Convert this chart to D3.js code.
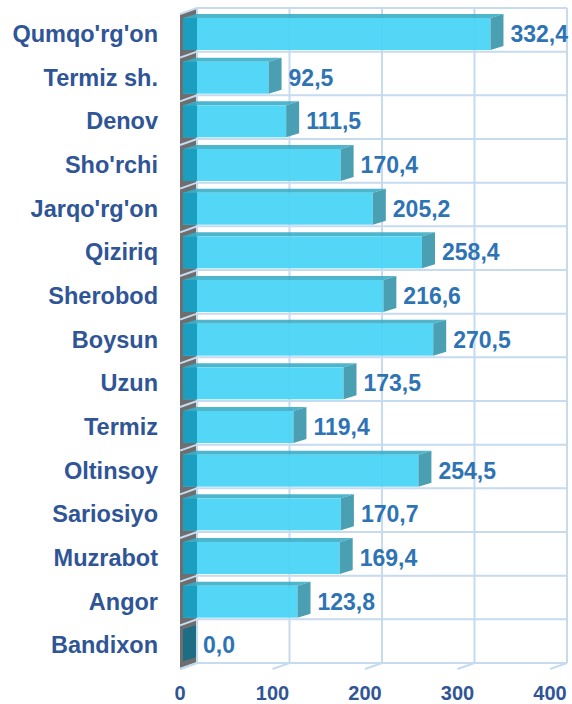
<!DOCTYPE html>
<html>
<head>
<meta charset="utf-8">
<script src="https://cdn.jsdelivr.net/npm/d3@7"></script>
<style>
  body { margin: 0; background: #fff; }
  text { font-family: "Liberation Sans", Arial, sans-serif; font-weight: bold; }
</style>
</head>
<body>
<div id="chart"></div>
<script>
// data
var districts = ["Qumqo'rg'on", "Termiz sh.", "Denov", "Sho'rchi", "Jarqo'rg'on", "Qiziriq", "Sherobod",
  "Boysun", "Uzun", "Termiz ", "Oltinsoy", "Sariosiyo", "Muzrabot", "Angor", "Bandixon"];
var values = [332.4, 92.5, 111.5, 170.4, 205.2, 258.4, 216.6, 270.5, 173.5, 119.4, 254.5, 170.7, 169.4, 123.8, 0.0];
var ticks = [0, 100, 200, 300, 400];

var width = 572, height = 704;
var depth = {dx: 17, dy: -6};      // front -> back offset of the walls
var barDepth = {dx: 13, dy: -4};   // depth of a bar

var svg = d3.select('#chart').append('svg')
  .attr('width', width)
  .attr('height', height);

// back wall scales
var x = d3.scaleLinear().domain([0, 400]).range([197, 567]);
var y = d3.scaleBand().domain(districts).range([8, 663]).paddingInner(0);

var grid = '#c6daf0';

// left side wall
svg.append('path')
  .attr('d', `M${x(0) - depth.dx},${y.range()[0] - depth.dy} L${x(0)},${y.range()[0]} L${x(0)},${y.range()[1]} L${x(0) - depth.dx},${y.range()[1] - depth.dy} Z`)
  .attr('fill', '#6e6e6e');

// vertical gridlines on back wall
svg.selectAll('.vgrid')
  .data(ticks)
  .enter().append('line')
  .attr('x1', d => x(d)).attr('x2', d => x(d))
  .attr('y1', y.range()[0]).attr('y2', y.range()[1])
  .attr('stroke', grid).attr('stroke-width', 2);

// floor ticks
svg.selectAll('.fgrid')
  .data(ticks)
  .enter().append('line')
  .attr('x1', d => x(d)).attr('x2', d => x(d) - depth.dx)
  .attr('y1', y.range()[1]).attr('y2', y.range()[1] - depth.dy)
  .attr('stroke', grid).attr('stroke-width', 2);

// horizontal gridlines (back wall + side wall)
var bounds = districts.map(d => y(d)).concat([y.range()[1]]);
svg.selectAll('.hgrid')
  .data(bounds)
  .enter().append('path')
  .attr('d', d => `M${x(0) - depth.dx},${d - depth.dy} L${x(0)},${d} L${x(400)},${d}`)
  .attr('fill', 'none')
  .attr('stroke', grid).attr('stroke-width', 2);

// bars
var x0 = x(0) - depth.dx + 3;   // front face start
var k = (x(100) - x(0)) / 100;
function xv(v) { return x0 + v * k; }

var bars = svg.selectAll('.bar')
  .data(districts.map((d, i) => ({name: d, value: values[i]})))
  .enter().append('g');

bars.each(function (d) {
  var g = d3.select(this);
  var top = y(d.name) + 10, bot = y(d.name) + 42;
  var xr = xv(d.value);
  if (d.value > 0) {
    // top face
    g.append('path')
      .attr('d', `M${x0},${top} L${x0 + barDepth.dx},${top + barDepth.dy} L${xr + barDepth.dx},${top + barDepth.dy} L${xr},${top} Z`)
      .attr('fill', '#3aadc6').attr('opacity', 0.9);
    // front face
    g.append('rect')
      .attr('x', x0).attr('y', top)
      .attr('width', xr - x0).attr('height', bot - top)
      .attr('fill', '#4bd5f5').attr('opacity', 0.95);
    // part over the side wall
    g.append('rect')
      .attr('x', x0).attr('y', top)
      .attr('width', Math.min(14, xr - x0)).attr('height', bot - top)
      .attr('fill', '#1b9fc0');
    // right end face
    g.append('path')
      .attr('d', `M${xr},${top} L${xr + barDepth.dx},${top + barDepth.dy} L${xr + barDepth.dx},${bot + barDepth.dy} L${xr},${bot} Z`)
      .attr('fill', '#4a9fb3');
  } else {
    g.append('path')
      .attr('d', `M${x0},${top} L${x0 + barDepth.dx},${top + barDepth.dy} L${x0 + barDepth.dx},${bot + barDepth.dy} L${x0},${bot} Z`)
      .attr('fill', '#1d6e85');
  }
  // value label
  g.append('text')
    .attr('x', xr + barDepth.dx + 7)
    .attr('y', (top + bot) / 2 + 8)
    .attr('fill', '#2e74b5')
    .style('font-size', '23px')
    .text(d3.format('.1f')(d.value).replace('.', ','));
});

// category labels
svg.selectAll('.cat')
  .data(districts)
  .enter().append('text')
  .attr('x', 158)
  .attr('y', d => y(d) + 26 + 8)
  .attr('text-anchor', 'end')
  .attr('fill', '#2f5597')
  .style('font-size', '23.5px')
  .text(d => d);

// x axis labels
svg.selectAll('.tick')
  .data(ticks)
  .enter().append('text')
  .attr('x', d => x(d) - depth.dx)
  .attr('y', 700)
  .attr('text-anchor', 'middle')
  .attr('fill', '#2f5597')
  .style('font-size', '20px')
  .text(d => d);
</script>
</body>
</html>
